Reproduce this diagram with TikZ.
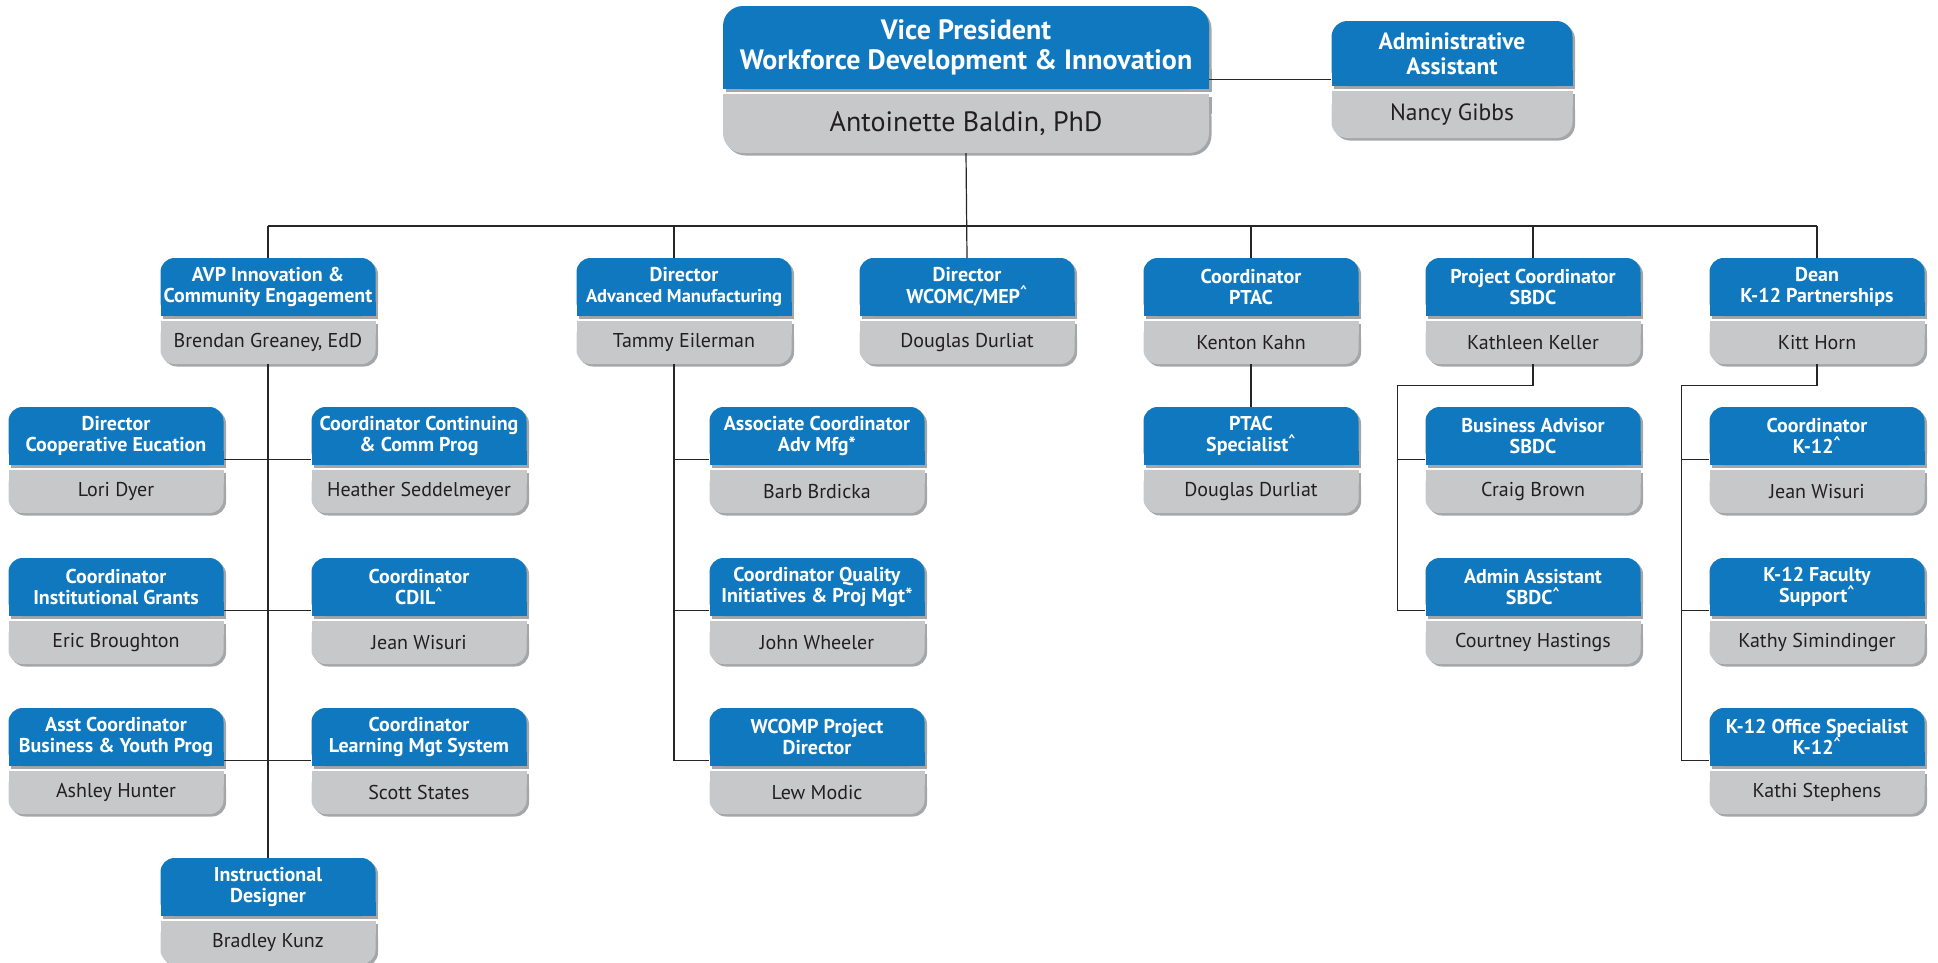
\documentclass[tikz,border=0pt]{standalone}
\usepackage{fontspec}
\setmainfont{PT Sans}
\usetikzlibrary{positioning}

\definecolor{orgblue}{RGB}{16,120,190}
\definecolor{orggray}{RGB}{199,200,202}
\definecolor{orgshade}{RGB}{165,166,168}
\definecolor{orgname}{RGB}{35,31,32}

\tikzset{
  boxradius/.store in=\orgr, boxradius=14,
  boxshadow/.style={fill=orgshade},
  titletext/.style={text=white, align=center, inner sep=0pt,
    font=\bfseries\fontsize{20}{21.5}\selectfont},
  nametext/.style={text=orgname, align=center, inner sep=0pt,
    font=\fontsize{20}{22}\selectfont},
  link/.style={draw=black!85, line width=1.2pt}
}

% [opts] name, centre x, top y, width, title height, name height, title, person
\newcommand{\orgbox}[9][]{%
  \begin{scope}[#1]
  \pgfmathsetmacro\bxl{#3-#5/2}
  \pgfmathsetmacro\bxr{#3+#5/2}
  \pgfmathsetmacro\bym{#4+#6}
  \pgfmathsetmacro\byn{#4+#6+5}
  \pgfmathsetmacro\byb{#4+#6+5+#7}
  \fill[boxshadow, rounded corners=\orgr] (\bxl+2.5,#4+2.5) rectangle (\bxr+2.5,\bym+2.5);
  \fill[boxshadow] (\bxl+2.5,\bym-\orgr) rectangle (\bxr+2.5,\bym+2.5);
  \fill[boxshadow, rounded corners=\orgr] (\bxl+2.5,\byn+2.5) rectangle (\bxr+2.5,\byb+2.5);
  \fill[boxshadow] (\bxl+2.5,\byn+2.5) rectangle (\bxr+2.5,\byn+\orgr);
  \fill[orgblue, rounded corners=\orgr] (\bxl,#4) rectangle (\bxr,\bym);
  \fill[orgblue] (\bxl,\bym-\orgr) rectangle (\bxr,\bym);
  \fill[orggray, rounded corners=\orgr] (\bxl,\byn) rectangle (\bxr,\byb);
  \fill[orggray] (\bxl,\byn) rectangle (\bxr,\byn+\orgr);
  \node[titletext, minimum width=#5, minimum height=#6] (#2) at (#3,{#4+#6/2}) {#8};
  \node[nametext, minimum width=#5, minimum height=#7] (#2-n) at (#3,{(\byn+\byb)/2}) {#9};
  \end{scope}}
\newcommand{\posbox}[5]{\orgbox{#1}{#2}{#3}{215}{58}{43}{#4}{#5}}
\newcommand{\up}{\textsuperscript{\textasciicircum}}

\begin{document}
\begin{tikzpicture}[x=1pt, y=-1pt]
\useasboundingbox (0,0) rectangle (1938,962);

\orgbox[boxradius=20,
  titletext/.append style={font=\bfseries\fontsize{28}{30}\selectfont},
  nametext/.append style={font=\fontsize{28}{30}\selectfont}]
  {vp}{966}{6}{486}{83}{59}{Vice President\\Workforce Development \& Innovation}{Antoinette Baldin, PhD}
\orgbox[boxradius=16,
  titletext/.append style={font=\bfseries\fontsize{23.5}{25}\selectfont},
  nametext/.append style={font=\fontsize{23.5}{25}\selectfont}]
  {aa}{1452}{21}{241}{65}{47}{Administrative\\Assistant}{Nancy Gibbs}

\posbox{avp}{268}{258}{AVP Innovation \&\\Community Engagement}{Brendan Greaney, EdD}
\posbox{adv}{684}{258}{Director\\{\fontsize{18.5}{21.5}\selectfont Advanced Manufacturing}}{Tammy Eilerman}
\posbox{wcomc}{967}{258}{Director\\WCOMC/MEP\up}{Douglas Durliat}
\posbox{ptac}{1251}{258}{Coordinator\\PTAC}{Kenton Kahn}
\posbox{sbdc}{1533}{258}{Project Coordinator\\SBDC}{Kathleen Keller}
\posbox{dean}{1817}{258}{Dean\\K-12 Partnerships}{Kitt Horn}

\posbox{coop}{116}{407}{Director\\Cooperative Eucation}{Lori Dyer}
\posbox{cont}{419}{407}{Coordinator Continuing\\\& Comm Prog}{Heather Seddelmeyer}
\posbox{grants}{116}{558}{Coordinator\\Institutional Grants}{Eric Broughton}
\posbox{cdil}{419}{558}{Coordinator\\CDIL\up}{Jean Wisuri}
\posbox{asst}{116}{708}{Asst Coordinator\\Business \& Youth Prog}{Ashley Hunter}
\posbox{lms}{419}{708}{Coordinator\\Learning Mgt System}{Scott States}
\posbox{instr}{268}{858}{Instructional\\Designer}{Bradley Kunz}

\posbox{assoc}{817}{407}{Associate Coordinator\\Adv Mfg*}{Barb Brdicka}
\posbox{quality}{817}{558}{Coordinator Quality\\Initiatives \& Proj Mgt*}{John Wheeler}
\posbox{wcomp}{817}{708}{WCOMP Project\\Director}{Lew Modic}

\posbox{ptacsp}{1251}{407}{PTAC\\Specialist\up}{Douglas Durliat}

\posbox{bizadv}{1533}{407}{Business Advisor\\SBDC}{Craig Brown}
\posbox{sbdcadm}{1533}{558}{Admin Assistant\\SBDC\up}{Courtney Hastings}

\posbox{k12co}{1817}{407}{Coordinator\\K-12\up}{Jean Wisuri}
\posbox{k12fac}{1817}{558}{K-12 Faculty\\Support\up}{Kathy Simindinger}
\posbox{k12off}{1817}{708}{K-12 Office Specialist\\K-12\up}{Kathi Stephens}

\draw[link] ([yshift=10pt]vp.south east) -- ([yshift=10pt]vp.south east -| aa.west);
\draw[link] (vp-n.south) -- (wcomc.north);
\coordinate (bus) at (967,226);
\draw[link] (avp.north |- bus) -- (dean.north |- bus);
\foreach \n in {avp,ptac,sbdc,dean}
  \draw[link] (\n.north) -- (\n.north |- bus);
\draw[link] ([xshift=-10pt]adv.north) -- ([xshift=-10pt]adv.north |- bus);

\draw[link] (avp-n.south) -- (instr.north);
\foreach \a/\b in {coop/cont,grants/cdil,asst/lms}
  \draw[link] ([yshift=6pt]\a.south east) -- ([yshift=6pt]\b.south west);

\draw[link] ([xshift=-10pt]adv-n.south) |- ([yshift=6pt]wcomp.south west);
\foreach \n in {assoc,quality}
  \draw[link] ([yshift=6pt]\n.south west) -| ([xshift=-10pt]adv-n.south);

\draw[link] (ptac-n.south) -- (ptacsp.north);

\draw[link] (sbdc-n.south) -- ++(0,21) -| ([xshift=-28pt,yshift=6pt]sbdcadm.south west)
  -- ([yshift=6pt]sbdcadm.south west);
\draw[link] ([yshift=6pt]bizadv.south west) -- ++(-28,0);

\draw[link] (dean-n.south) -- ++(0,21) -| ([xshift=-28pt,yshift=6pt]k12off.south west)
  -- ([yshift=6pt]k12off.south west);
\foreach \n in {k12co,k12fac}
  \draw[link] ([yshift=6pt]\n.south west) -- ++(-28,0);
\end{tikzpicture}
\end{document}
